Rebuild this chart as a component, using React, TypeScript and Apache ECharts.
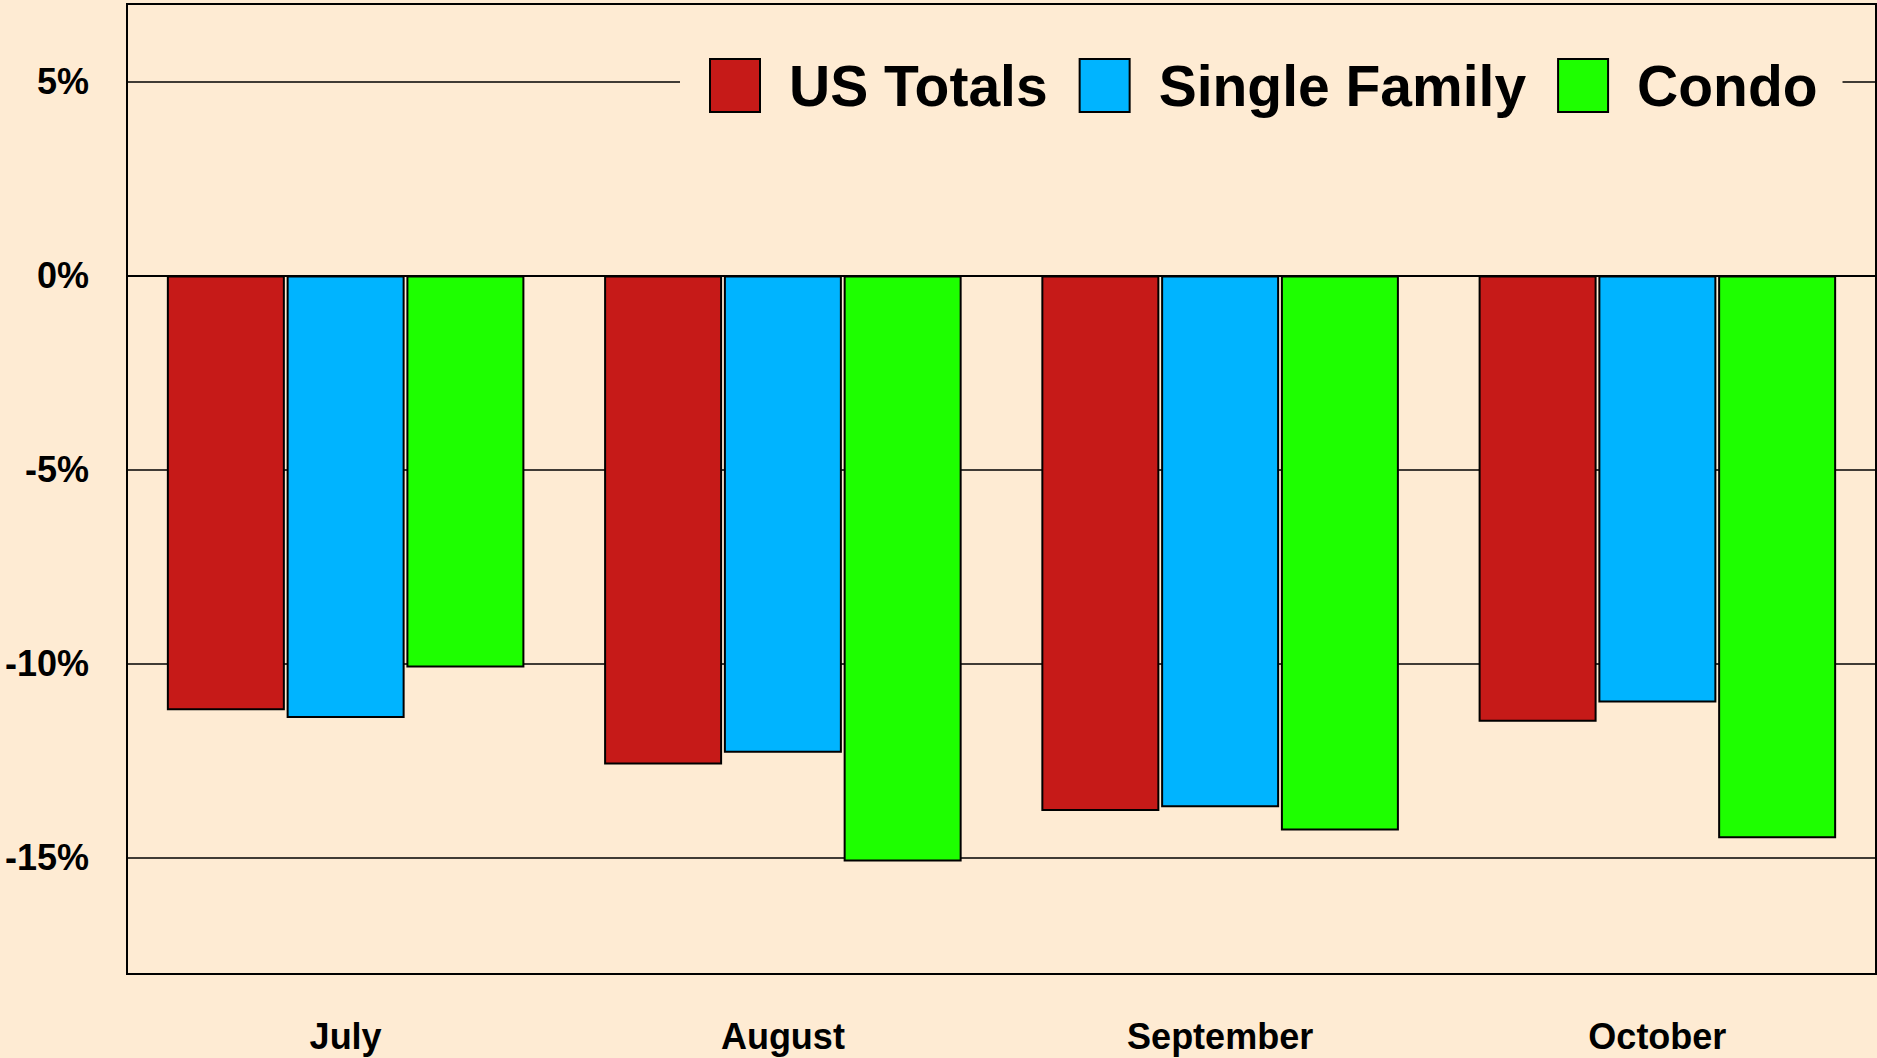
import React, { useEffect, useRef } from "react";
import * as echarts from "echarts";

const categories = ["July", "August", "September", "October"];
const usTotals = [-11.2, -12.6, -13.8, -11.5];
const singleFamily = [-11.4, -12.3, -13.7, -11.0];
const condo = [-10.1, -15.1, -14.3, -14.5];
const yTicks = [-15, -10, -5, 0, 5];

const BG = "#FEEBD3";
const FONT = "Liberation Sans, Arial, sans-serif";

export default function App() {
  const ref = useRef<HTMLDivElement>(null);
  useEffect(() => {
    const chart = echarts.init(ref.current!, null, { renderer: "svg" });
    const barStyle = (color: string) => ({
      color,
      borderColor: "#000",
      borderWidth: 2,
    });
    chart.setOption({
      animation: false,
      backgroundColor: BG,
      textStyle: { fontFamily: FONT },
      grid: {
        left: 127,
        top: 4,
        width: 1749,
        height: 970,
        show: true,
        borderColor: "#000",
        borderWidth: 2,
        backgroundColor: BG,
      },
      legend: {
        left: 680,
        top: 47,
        padding: [10, 25, 10, 29],
        backgroundColor: BG,
        itemWidth: 50,
        itemHeight: 53,
        itemGap: 31,
        icon: "rect",
        textStyle: {
          fontSize: 57,
          fontWeight: "bold",
          color: "#000",
          fontFamily: FONT,
          padding: [8, 0, 0, 24],
        },
        data: ["US Totals", "Single Family", "Condo"],
      },
      xAxis: {
        type: "category",
        data: categories,
        axisLine: { show: true, lineStyle: { color: "#000", width: 2 } },
        axisTick: {
          show: true,
          alignWithLabel: true,
          length: 26,
          lineStyle: { color: "#000", width: 2 },
        },
        axisLabel: {
          margin: 44,
          fontSize: 36,
          fontWeight: "bold",
          color: "#000",
          fontFamily: FONT,
        },
        splitLine: { show: false },
      },
      yAxis: {
        type: "value",
        min: -18,
        max: 7,
        axisLine: { show: false },
        axisTick: { show: false, customValues: yTicks },
        axisLabel: {
          customValues: yTicks,
          margin: 38,
          fontSize: 36,
          fontWeight: "bold",
          color: "#000",
          fontFamily: FONT,
          padding: [5, 0, 0, 0],
          formatter: (v: number) => `${v}%`,
        },
        splitLine: { show: true, lineStyle: { color: "#000", width: 1.5 } },
      },
      series: [
        {
          name: "US Totals",
          type: "bar",
          data: usTotals,
          barWidth: 118,
          barGap: "1.5%",
          itemStyle: barStyle("#C61A18"),
        },
        {
          name: "Single Family",
          type: "bar",
          data: singleFamily,
          barWidth: 118,
          barGap: "1.5%",
          itemStyle: barStyle("#00B4FF"),
        },
        {
          name: "Condo",
          type: "bar",
          data: condo,
          barWidth: 118,
          barGap: "1.5%",
          itemStyle: barStyle("#1EFF00"),
        },
      ],
    });
    return () => chart.dispose();
  }, []);
  return (
    <div
      ref={ref}
      style={{ position: "fixed", left: 0, top: 0, width: 1877, height: 1058 }}
    />
  );
}
